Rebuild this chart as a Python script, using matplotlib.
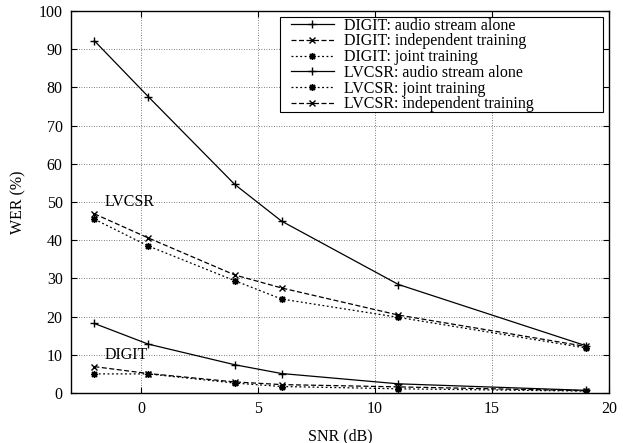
import matplotlib
matplotlib.use('Agg')
import matplotlib.pyplot as plt
import matplotlib.patches as mpatches

# Datos: WER (%) frente a SNR (dB)
snr = [-2, 0.3, 4, 6, 11, 19]

digit_audio = [18.2, 12.8, 7.4, 5.1, 2.4, 0.7]
digit_indep = [6.9, 5.1, 2.9, 2.2, 1.6, 0.6]
digit_joint = [5.0, 5.0, 2.6, 1.7, 1.1, 0.5]

lvcsr_audio = [92.2, 77.6, 54.6, 45.0, 28.4, 12.4]
lvcsr_joint = [45.5, 38.5, 29.4, 24.6, 19.8, 11.8]
lvcsr_indep = [46.9, 40.6, 30.9, 27.5, 20.4, 12.2]

plt.rcParams['font.family'] = ['Liberation Serif', 'DejaVu Serif']

W, H = 623, 443
fig = plt.figure(figsize=(W / 100, H / 100), dpi=100)
ax = fig.add_axes([71 / W, 1 - 393 / H, (609 - 71) / W, (393 - 11) / H])

star = (8, 2, 0)
ms = 5
lw = 0.9
dashed = (0, (4, 2))
dotted = (0, (1.5, 2))

ax.plot(snr, digit_audio, color='black', linestyle='-', marker='+', markersize=ms + 1,
        linewidth=lw, label='DIGIT: audio stream alone')
ax.plot(snr, digit_indep, color='black', linestyle=dashed, marker='x', markersize=ms,
        linewidth=lw, label='DIGIT: independent training')
ax.plot(snr, digit_joint, color='black', linestyle=dotted, marker=star, markersize=ms,
        linewidth=lw, label='DIGIT: joint training')
ax.plot(snr, lvcsr_audio, color='black', linestyle='-', marker='+', markersize=ms + 1,
        linewidth=lw, label='LVCSR: audio stream alone')
ax.plot(snr, lvcsr_joint, color='black', linestyle=dotted, marker=star, markersize=ms,
        linewidth=lw, label='LVCSR: joint training')
ax.plot(snr, lvcsr_indep, color='black', linestyle=dashed, marker='x', markersize=ms,
        linewidth=lw, label='LVCSR: independent training')

ax.text(-1.55, 50, 'LVCSR', fontsize=11.5, ha='left', va='center')
ax.text(-1.55, 10, 'DIGIT', fontsize=11.5, ha='left', va='center')

ax.set_xlim(-3, 20)
ax.set_ylim(0, 100)
ax.set_xticks([0, 5, 10, 15, 20])
ax.set_yticks(range(0, 101, 10))
ax.tick_params(direction='in', top=True, right=True, labelsize=11.5, length=4, width=0.8, pad=6)
ax.grid(True, color='#555555', linestyle=(0, (1, 2)), linewidth=0.6)
for s in ax.spines.values():
    s.set_linewidth(1.0)

ax.set_xlabel('SNR (dB)', fontsize=11.5, labelpad=8)
ax.set_ylabel('WER (%)', fontsize=11.5, labelpad=9)

# Caja de la leyenda (estilo gnuplot, más ancha que el texto)
caja = mpatches.Rectangle((280 / W, 1 - 112 / H), 323 / W, 95 / H, transform=fig.transFigure,
                          facecolor='white', edgecolor='black', linewidth=0.8, zorder=3)
ax.add_patch(caja)

leg = ax.legend(loc='upper left', bbox_to_anchor=(290 / W, 1 - 17 / H),
                bbox_transform=fig.transFigure, fontsize=11.5, numpoints=1,
                handlelength=2.7, labelspacing=-0.02, handletextpad=0.6,
                borderpad=0.05, borderaxespad=0, frameon=False)
leg.set_zorder(5)

plt.savefig('out.png', dpi=100)
